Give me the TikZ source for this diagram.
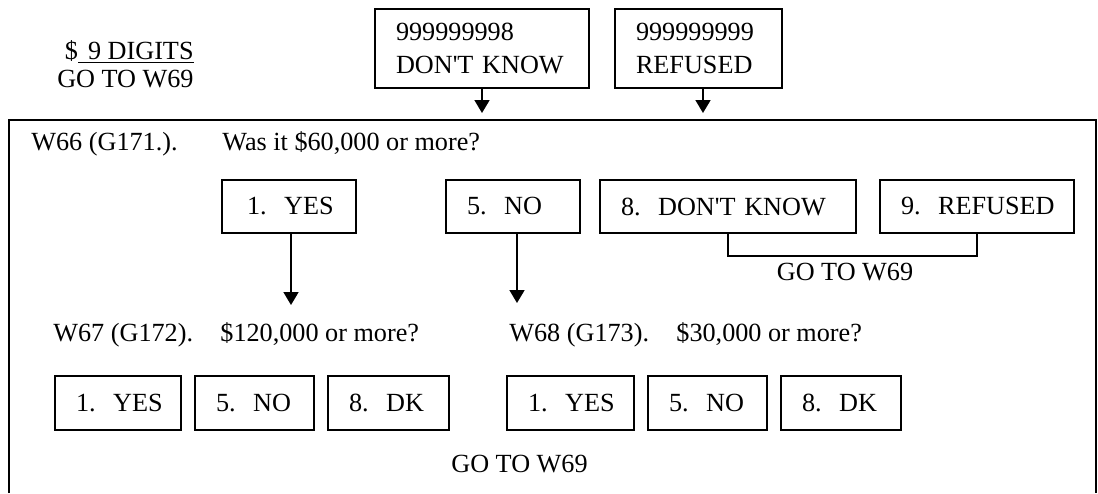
\documentclass[tikz,border=0pt]{standalone}
\usepackage{fontspec}
\setmainfont{Liberation Serif}
\usetikzlibrary{arrows.meta}

\begin{document}
\fontsize{13.1}{15}\selectfont
\begin{tikzpicture}[x=0.5pt,y=-0.5pt,
    ans/.style={draw, line width=0.9pt, inner xsep=10.5pt, inner ysep=0pt, align=left, minimum height=27pt},
    txt/.style={inner sep=0pt, anchor=base west},
    arr/.style={-{Triangle[length=6.5pt,width=7.5pt]}, line width=0.9pt}]
  \useasboundingbox (0,0) rectangle (1098,493);

  % top
  \node[inner sep=0pt, anchor=base east] (dig) at (194,59) {\$\underline{\hspace{5pt}9 DIGITS}};
  \node[inner sep=0pt, anchor=base east] (dgo) at (194,87) {GO TO W69};
  \node[ans, text width=86pt, minimum height=39.5pt] (dk0) at (482,48.5) {\mbox{999999998}\\[1.5pt]\mbox{DON\textquotesingle T KNOW}};
  \node[ans, text width=62.5pt, minimum height=39.5pt] (ref0) at (698.5,48.5) {\mbox{999999999}\\[1.5pt]\mbox{REFUSED}};
  \coordinate (dkend) at (482,113);
  \coordinate (refend) at (703,113);
  \draw[arr] (dk0.south) -- (dkend);
  \draw[arr] (refend |- ref0.south) -- (refend);

  % frame
  \draw[line width=0.9pt] (9,493) -- (9,120) -- (1096,120) -- (1096,493);

  % W66
  \node[txt] (q66) at (31,150) {W66 (G171.).};
  \node[txt] (q66b) at (222,150) {Was it \$60,000 or more?};
  \node[ans, text width=42pt, inner xsep=12.5pt, minimum height=26.5pt] (yes1) at (289,206.5) {\mbox{1.~~YES}};
  \node[ans, text width=46pt, minimum height=26.5pt] (no1) at (513,206.5) {\mbox{5.~~NO}};
  \node[ans, text width=107pt, minimum height=26.5pt] (dk1) at (728,206.5) {\mbox{8.~~DON\textquotesingle T KNOW}};
  \node[ans, text width=76pt, minimum height=26.5pt] (ref1) at (977,206.5) {\mbox{9.~~REFUSED}};
  \coordinate (brk) at (853,256);
  \draw[line width=0.9pt] (dk1.south) -- (dk1.south |- brk) -| (ref1.south);
  \node[inner sep=0pt, anchor=base] (goto1) at (845,280) {GO TO W69};
  \coordinate (yesend) at (291,305);
  \coordinate (noend) at (517,303);
  \draw[arr] (yesend |- yes1.south) -- (yesend);
  \draw[arr] (noend |- no1.south) -- (noend);

  % W67 and W68
  \node[txt] (q67) at (53,341) {W67 (G172).};
  \node[txt] (q67b) at (220,341) {\$120,000 or more?};
  \node[txt] (q68) at (509,341) {W68 (G173).};
  \node[txt] (q68b) at (676,341) {\$30,000 or more?};
  \node[ans, text width=42pt] (yes2) at (118,403) {\mbox{1.~~YES}};
  \node[ans, text width=38.5pt] (no2) at (254.5,403) {\mbox{5.~~NO}};
  \node[ans, text width=39.5pt] (dk2) at (388.5,403) {\mbox{8.~~DK}};
  \node[ans, text width=42.5pt] (yes3) at (570.5,403) {\mbox{1.~~YES}};
  \node[ans, text width=38.5pt] (no3) at (707.5,403) {\mbox{5.~~NO}};
  \node[ans, text width=39pt] (dk3) at (841,403) {\mbox{8.~~DK}};
  \node[inner sep=0pt, anchor=base] (goto2) at (519.5,472) {GO TO W69};
\end{tikzpicture}
\end{document}
